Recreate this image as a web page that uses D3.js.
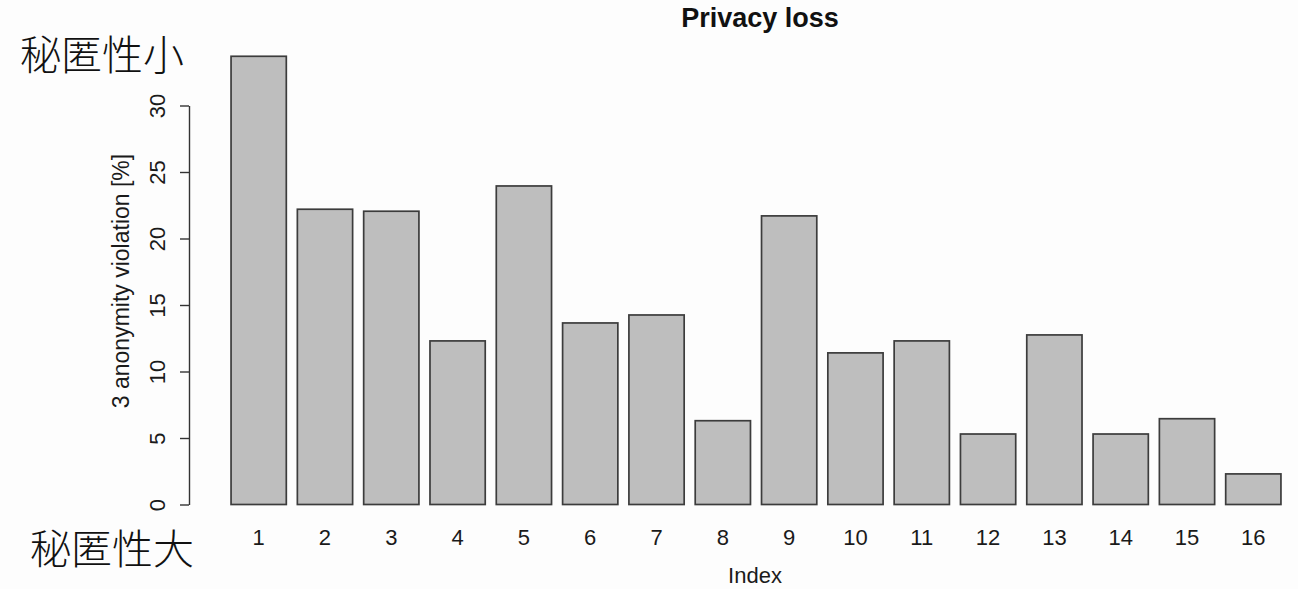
<!DOCTYPE html>
<html>
<head>
<meta charset="utf-8">
<script src="https://cdn.jsdelivr.net/npm/d3@7"></script>
<style>
    html, body { margin: 0; padding: 0; background: #fdfdfd; }
</style>
</head>
<body>
<div id="chart"></div>
<script>
// DATA
// ================================================================================== //

const indexLabels = ["1", "2", "3", "4", "5", "6", "7", "8", "9", "10", "11", "12", "13", "14", "15", "16"]
const violation = [33.7, 22.2, 22.05, 12.3, 23.95, 13.65, 14.25, 6.3, 21.7, 11.4, 12.3, 5.3, 12.75, 5.3, 6.45, 2.3]
const yTicks = [0, 5, 10, 15, 20, 25, 30]
const titleText = "Privacy loss"
const xLabelText = "Index"
const yLabelText = "3 anonymity violation [%]"
const noteTop = "秘匿性小"
const noteBottom = "秘匿性大"

const DATA = indexLabels.map((k, i) => ({ key: k, value: violation[i] }))

// ================================================================================== //
// DATA END


const width = 1298
const height = 589
const axisX = 189
const latin = "'Liberation Sans', Arial, sans-serif"
const cjk = "'Noto Sans CJK JP', sans-serif"

// R barplot style: bars of width 1 with 0.2 space before each one
const x = d3.scaleBand()
    .domain(indexLabels)
    .range([220, 1292])
    .paddingInner(1 / 6)
    .paddingOuter(1 / 6)

const y = d3.scaleLinear()
    .domain([0, 30])
    .range([504.5, 105.5])

const svg = d3.select("#chart")
    .append("svg")
    .attr("width", width)
    .attr("height", height)
    .attr("viewBox", [0, 0, width, height])
    .attr("style", "background-color:#fdfdfd; display:block");

svg.append("g")
    .selectAll("rect")
    .data(DATA)
    .join("rect")
    .attr("x", d => x(d.key))
    .attr("width", x.bandwidth())
    .attr("y", d => y(d.value))
    .attr("height", d => y(0) - y(d.value))
    .attr("fill", "#bebebe")
    .attr("stroke", "#3c3c3c")
    .attr("stroke-width", 1.7)

// y axis, labels turned parallel to the axis like R does
svg.append("g")
    .attr("transform", `translate(${axisX},0)`)
    .call(d3.axisLeft(y).tickValues(yTicks).tickSize(9).tickSizeOuter(0).tickFormat(d3.format("d")))
    .call(g => g.select(".domain").attr("stroke", "#333").attr("stroke-width", 1.4))
    .call(g => g.selectAll(".tick line").attr("stroke", "#333").attr("stroke-width", 1.4))
    .call(g => g.selectAll(".tick text")
        .attr("x", null)
        .attr("dy", null)
        .attr("transform", "translate(-24,0) rotate(-90)")
        .attr("text-anchor", "middle")
        .attr("fill", "#1a1a1a")
        .style("font-family", latin)
        .style("font-size", "22px"))

// x tick labels only, no axis line
svg.append("g")
    .attr("transform", "translate(0,545)")
    .call(d3.axisBottom(x).tickSize(0).tickPadding(0))
    .call(g => g.select(".domain").remove())
    .call(g => g.selectAll(".tick text")
        .attr("y", 0)
        .attr("dy", null)
        .attr("fill", "#1a1a1a")
        .style("font-family", latin)
        .style("font-size", "22px"))

svg.append("text")
    .attr("x", 760)
    .attr("y", 27)
    .attr("text-anchor", "middle")
    .attr("fill", "#111")
    .style("font-family", latin)
    .style("font-weight", "bold")
    .style("font-size", "27px")
    .text(titleText)

svg.append("text")
    .attr("x", 755)
    .attr("y", 583)
    .attr("text-anchor", "middle")
    .attr("fill", "#1a1a1a")
    .style("font-family", latin)
    .style("font-size", "22px")
    .text(xLabelText)

svg.append("text")
    .attr("transform", "translate(129,281) rotate(-90)")
    .attr("text-anchor", "middle")
    .attr("fill", "#1a1a1a")
    .style("font-family", latin)
    .style("font-size", "23px")
    .text(yLabelText)

// japanese notes on the left
svg.append("text")
    .attr("x", 20)
    .attr("y", 70)
    .attr("fill", "#111")
    .style("font-family", cjk)
    .style("font-weight", "300")
    .style("font-size", "41px")
    .text(noteTop)

svg.append("text")
    .attr("x", 30)
    .attr("y", 564)
    .attr("fill", "#111")
    .style("font-family", cjk)
    .style("font-weight", "300")
    .style("font-size", "41px")
    .text(noteBottom)
</script>
</body>
</html>
